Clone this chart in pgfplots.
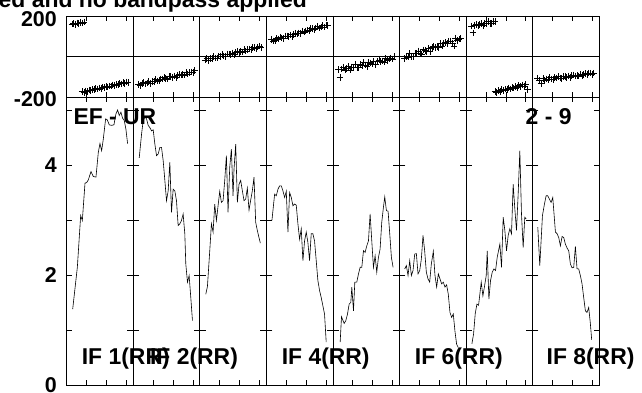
\documentclass[border=0pt]{standalone}
\usepackage{pgfplots}
\pgfplotsset{compat=1.18}
\usepackage{pgfplotstable}
\usepackage{fontspec}
\setmainfont{Liberation Sans}
\newcommand{\lbl}{\fontsize{23}{26}\selectfont\bfseries}
\newcommand{\tkl}{\fontsize{21.5}{24}\selectfont\bfseries}

\pgfplotstableread{
f p1u p1l p2 p3 p4 p5 p6 p7u p7l p8
0.080 160 nan -137 -17 85 -64 -11 151 nan -107
0.106 163 nan -142 -11 77 -104 -1 117 nan -120
0.131 159 nan -134 -19 78 -62 -3 153 nan -132
0.157 166 nan -128 -9 88 -53 15 159 nan -110
0.182 163 nan -135 -10 87 -66 0 152 nan -120
0.208 168 nan -130 0 96 -60 1 157 nan -111
0.233 166 -174 -124 -8 91 -50 16 163 nan -113
0.259 171 -177 -132 -7 88 -66 14 154 nan -103
0.284 nan -170 -122 2 101 -52 27 163 nan -112
0.310 nan -172 -124 1 101 -55 17 162 nan -113
0.335 nan -165 -113 9 98 -38 13 172 nan -104
0.361 nan -168 -121 3 107 -54 33 164 nan -106
0.386 nan -162 -120 1 99 -54 31 164 nan -99
0.412 nan -164 -111 13 110 -40 26 173 nan -106
0.437 nan -158 -112 12 115 -43 39 172 -174 -109
0.463 nan -160 -104 10 112 -31 25 nan -177 -98
0.488 nan -155 -110 18 116 -42 43 nan -169 -100
0.514 nan -157 -112 9 113 -48 50 nan -173 -103
0.539 nan -151 -100 20 126 -28 43 nan -164 -96
0.565 nan -153 -100 25 120 -32 49 nan -168 -105
0.590 nan -148 -104 21 126 -37 44 nan -161 -95
0.616 nan -150 -96 24 130 -26 64 nan -164 -91
0.641 nan -145 -104 22 128 -41 52 nan -156 -96
0.667 nan -146 -93 34 137 -24 63 nan -160 -94
0.692 nan -140 -88 27 137 -18 68 nan -152 -97
0.718 nan -143 -92 34 132 -26 63 nan -156 -86
0.743 nan -137 -89 37 141 -22 76 nan -148 -93
0.769 nan -139 -91 35 147 -27 77 nan -152 -88
0.794 nan -133 -79 43 141 -8 67 nan -144 -85
0.820 nan -135 -86 43 146 -21 52 nan -149 -89
0.845 nan -129 -79 38 153 -12 90 nan -140 -82
0.871 nan -132 -76 46 145 -8 78 nan -145 -82
0.896 nan -126 -78 52 155 -13 86 nan -138 -89
0.922 nan -128 -70 45 154 -1 90 nan -162 -82
}\phasetab

\pgfplotsset{
  possm/.style={
    scale only axis, width=532.3bp, xmin=0, xmax=8,
    axis line style={black, line width=0.8bp},
    tick align=inside, major tick length=5bp, minor tick length=5bp,
    every tick/.style={black, line width=0.7bp},
    xtick={0.3,0.6,0.9,1.3,1.6,1.9,2.3,2.6,2.9,3.3,3.6,3.9,4.3,4.6,4.9,5.3,5.6,5.9,6.3,6.6,6.9,7.3,7.6,7.9},
    xticklabels={}, yticklabels={}, xtick pos=both, ytick pos=both,
    extra x ticks={1,2,3,4,5,6,7}, extra x tick labels={},
    extra x tick style={grid=major, major grid style={black, line width=0.7bp}},
    clip=false,
  },
  amp/.style={black, line width=0.6bp, no marks},
  ph/.style={only marks, mark=+, mark size=3.3bp, black, mark options={line width=0.7bp}},
}
\tikzset{tl/.style={font=\tkl, anchor=east, inner sep=0pt, xshift=-9.7bp}}

\begin{document}
\begin{tikzpicture}[x=1bp,y=1bp]
\useasboundingbox (-66.7,-7) rectangle (575.3,385);
\clip (-66.7,-7) rectangle (575.3,385);

\begin{axis}[possm, at={(0bp,0bp)}, anchor=south west, height=288bp,
  ymin=0, ymax=5.236, ytick={0,2,4}, minor ytick={1,3,5}]
\addplot[amp] table[x expr=\thisrow{f}+0, y=a] {
f a
0.09 1.38
0.16 2.14
0.21 3.08
0.235 2.99
0.275 3.67
0.30 3.68
0.325 3.73
0.365 3.88
0.40 3.79
0.44 3.78
0.475 4.23
0.50 4.39
0.525 4.26
0.55 4.47
0.585 4.84
0.61 4.82
0.64 4.73
0.675 4.72
0.71 4.73
0.74 4.93
0.765 5.00
0.79 4.90
0.815 4.96
0.84 4.85
0.865 4.81
0.89 4.65
0.915 4.39
};
\addplot[amp] table[x expr=\thisrow{f}+1, y=a] {
f a
0.09 4.13
0.125 4.56
0.15 4.81
0.175 4.87
0.20 4.84
0.225 4.72
0.25 4.68
0.275 4.62
0.30 4.64
0.325 4.38
0.35 4.17
0.375 4.20
0.40 4.32
0.425 4.32
0.45 4.08
0.475 3.72
0.50 3.35
0.525 3.53
0.55 4.05
0.575 3.14
0.60 3.56
0.625 3.53
0.65 3.35
0.675 2.90
0.70 2.93
0.725 2.99
0.75 3.11
0.775 2.75
0.79 2.20
0.815 1.87
0.84 1.99
0.865 1.59
0.89 1.17
};
\addplot[amp] table[x expr=\thisrow{f}+2, y=a] {
f a
0.09 1.65
0.115 1.79
0.15 2.44
0.175 2.93
0.20 2.78
0.225 3.29
0.25 2.99
0.275 3.26
0.30 3.52
0.325 3.32
0.35 3.35
0.375 3.72
0.40 4.17
0.425 3.14
0.45 3.96
0.475 4.29
0.50 3.44
0.515 3.93
0.54 4.38
0.565 3.32
0.59 3.65
0.615 3.72
0.64 3.53
0.665 3.35
0.69 3.38
0.715 3.58
0.74 3.18
0.765 3.36
0.79 3.53
0.815 3.78
0.84 2.96
0.865 2.81
0.89 2.68
0.91 2.58
};
\addplot[amp] table[x expr=\thisrow{f}+3, y=a] {
f a
0.085 3.00
0.125 3.47
0.15 3.44
0.175 3.56
0.20 3.62
0.225 3.62
0.25 3.53
0.275 3.41
0.30 3.52
0.325 2.78
0.35 3.50
0.375 3.41
0.40 3.26
0.425 3.29
0.45 3.27
0.475 2.93
0.50 2.65
0.525 2.84
0.55 2.26
0.575 2.62
0.60 2.78
0.625 2.59
0.65 2.26
0.675 2.75
0.70 2.75
0.725 2.62
0.75 2.26
0.775 1.90
0.80 1.72
0.825 1.59
0.85 1.44
0.875 1.29
0.90 0.78
};
\addplot[amp] table[x expr=\thisrow{f}+4, y=a] {
f a
0.11 0.78
0.13 1.24
0.17 1.12
0.195 1.17
0.22 1.29
0.245 1.47
0.27 1.50
0.285 1.78
0.31 1.35
0.33 1.87
0.36 1.87
0.385 2.02
0.41 2.14
0.435 2.14
0.46 2.44
0.485 2.41
0.51 2.53
0.535 2.62
0.56 3.11
0.585 2.62
0.61 2.14
0.635 2.35
0.66 2.05
0.685 2.32
0.71 2.47
0.735 2.96
0.76 3.23
0.78 3.42
0.805 3.17
0.83 3.16
0.855 2.75
0.88 2.32
0.905 2.14
};
\addplot[amp] table[x expr=\thisrow{f}+5, y=a] {
f a
0.08 2.11
0.105 2.17
0.13 1.99
0.155 2.26
0.18 1.99
0.205 2.08
0.23 2.38
0.255 2.39
0.28 2.02
0.305 2.08
0.33 2.29
0.355 2.72
0.38 2.44
0.405 2.05
0.43 1.93
0.455 1.87
0.48 2.20
0.51 2.43
0.535 1.99
0.56 1.78
0.585 2.02
0.61 1.93
0.635 1.84
0.66 1.87
0.685 1.78
0.71 1.82
0.735 1.65
0.76 1.32
0.785 1.23
0.81 1.29
0.835 0.98
0.86 0.74
0.885 0.68
};
\addplot[amp] table[x expr=\thisrow{f}+6, y=a] {
f a
0.09 0.75
0.115 0.93
0.14 1.30
0.165 1.47
0.19 1.45
0.23 1.87
0.255 1.62
0.28 1.80
0.305 1.99
0.32 2.44
0.345 1.56
0.37 1.90
0.395 2.05
0.42 2.11
0.445 2.08
0.47 2.32
0.51 2.56
0.535 2.14
0.56 3.05
0.585 2.81
0.61 2.44
0.635 2.72
0.66 2.84
0.685 2.75
0.71 3.65
0.735 3.20
0.76 2.81
0.785 3.47
0.81 4.26
0.835 3.11
0.86 2.50
0.885 3.05
0.905 3.02
};
\addplot[amp] table[x expr=\thisrow{f}+7, y=a] {
f a
0.08 2.87
0.11 2.17
0.15 3.08
0.18 3.29
0.205 3.44
0.23 3.44
0.255 3.38
0.28 3.32
0.305 3.41
0.345 2.78
0.37 2.75
0.395 2.68
0.42 2.53
0.445 2.70
0.47 2.68
0.495 2.56
0.52 2.49
0.545 2.44
0.57 2.20
0.595 2.13
0.62 2.14
0.645 2.52
0.67 2.11
0.695 2.11
0.72 1.99
0.745 1.84
0.77 1.59
0.795 1.35
0.82 1.32
0.845 1.41
0.87 1.12
0.89 0.82
};
\addplot[only marks, mark=-, mark size=6bp, black, mark options={line width=0.7bp}] coordinates {
(1,1)(1,2)(1,3)(1,4)(1,5)
(2,1)(2,2)(2,3)(2,4)(2,5)
(3,1)(3,2)(3,3)(3,4)(3,5)
(4,1)(4,2)(4,3)(4,4)(4,5)
(5,1)(5,2)(5,3)(5,4)(5,5)
(6,1)(6,2)(6,3)(6,4)(6,5)
(7,1)(7,2)(7,3)(7,4)(7,5)
};
\node[tl] at (axis cs:0,0) {0};
\node[tl] at (axis cs:0,2) {2};
\node[tl] at (axis cs:0,4) {4};
\node[font=\lbl, anchor=base west, inner sep=0pt] at (axis cs:0.1,4.73) {EF - UR};
\node[font=\lbl, anchor=base east, inner sep=0pt] at (axis cs:7.59,4.73) {2 - 9};
\node[font=\lbl, anchor=base west, inner sep=0pt] at (axis cs:0.225,0.364) {IF 1(RR)};
\node[font=\lbl, anchor=base west, inner sep=0pt] at (axis cs:1.25,0.364) {IF 2(RR)};
\node[font=\lbl, anchor=base west, inner sep=0pt] at (axis cs:3.23,0.364) {IF 4(RR)};
\node[font=\lbl, anchor=base west, inner sep=0pt] at (axis cs:5.23,0.364) {IF 6(RR)};
\node[font=\lbl, anchor=base west, inner sep=0pt] at (axis cs:7.21,0.364) {IF 8(RR)};
\end{axis}

\begin{axis}[possm, at={(0bp,288bp)}, anchor=south west, height=81bp,
  ymin=-200, ymax=200, ytick={-200,200},
  extra y ticks={0}, extra y tick labels={},
  extra y tick style={grid=major, major grid style={black, line width=0.7bp}}]
\addplot[ph] table[x expr=\thisrow{f}+0, y=p1u] {\phasetab};
\addplot[ph] table[x expr=\thisrow{f}+0, y=p1l] {\phasetab};
\addplot[ph] table[x expr=\thisrow{f}+1, y=p2] {\phasetab};
\addplot[ph] table[x expr=\thisrow{f}+2, y=p3] {\phasetab};
\addplot[ph] table[x expr=\thisrow{f}+3, y=p4] {\phasetab};
\addplot[ph] table[x expr=\thisrow{f}+4, y=p5] {\phasetab};
\addplot[ph] table[x expr=\thisrow{f}+5, y=p6] {\phasetab};
\addplot[ph] table[x expr=\thisrow{f}+6, y=p7u] {\phasetab};
\addplot[ph] table[x expr=\thisrow{f}+6, y=p7l] {\phasetab};
\addplot[ph] table[x expr=\thisrow{f}+7, y=p8] {\phasetab};
\node[tl, yshift=-3bp] at (axis cs:0,200) {200};
\node[tl, yshift=-2bp] at (axis cs:0,-200) {-200};
\end{axis}

\node[font=\lbl, anchor=base east, inner sep=0pt] at (240.3,378) {Calibrated and no bandpass applied};
\end{tikzpicture}
\end{document}
